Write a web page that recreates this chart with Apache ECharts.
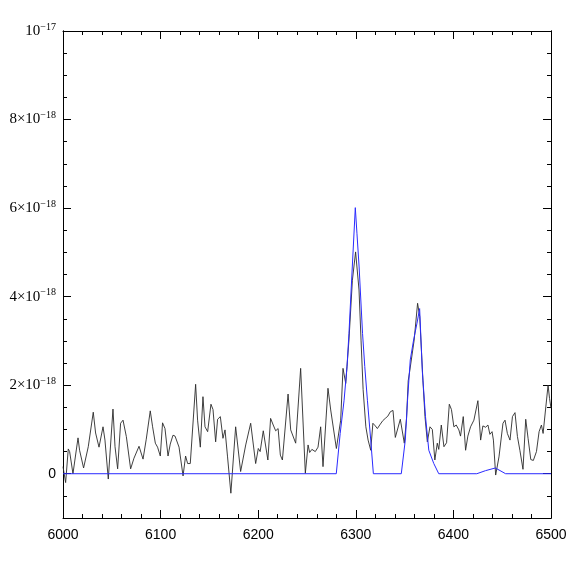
<!DOCTYPE html>
<html>
<head>
<meta charset="utf-8">
<script src="https://cdn.jsdelivr.net/npm/echarts@6/dist/echarts.min.js"></script>
<style>
  html, body { margin: 0; padding: 0; background: #fff; }
  #chart { width: 581px; height: 581px; }
</style>
</head>
<body>
<div id="chart"></div>
<script>
// wavelength (Angstrom) and flux in units of 1e-18
const observedX = [
  6000, 6002.7, 6005.4, 6006.8, 6010.2, 6015.4, 6017, 6021.1, 6025.9, 6031, 6033.4, 6036.9,
  6041, 6043, 6046.4, 6051.2, 6053.3, 6056, 6059, 6061.5, 6064.9, 6069.3, 6072.7, 6074.4,
  6077.9, 6082, 6085.3, 6089.4, 6091.8, 6094.6, 6096.9, 6099.7, 6102, 6104.5, 6107.6, 6109.9,
  6112.7, 6114.8, 6116.8, 6118.9, 6123, 6125.6, 6127.7, 6130.4, 6135.9, 6137.9, 6140.7, 6143.4,
  6145.5, 6148.2, 6151.6, 6153.7, 6156.4, 6158.4, 6161.2, 6163.9, 6166, 6168.6, 6172, 6176.9,
  6182, 6187.2, 6192.3, 6197.4, 6200.1, 6202, 6205.2, 6209.9, 6212.7, 6215.4, 6217.9, 6220.4,
  6222.7, 6224.8, 6230.6, 6233.3, 6235, 6238.4, 6243.5, 6248.3, 6251.1, 6252.7, 6255, 6258.5,
  6261.3, 6264, 6266.4, 6271.5, 6274.3, 6280.1, 6284.5, 6286.9, 6289.7, 6293, 6296.5, 6299.8,
  6303.3, 6305.4, 6307.5, 6310.3, 6312.6, 6315.3, 6317.5, 6320, 6322.1, 6325.1, 6327.7, 6330.2,
  6332.8, 6335.4, 6338.1, 6340.5, 6345.6, 6349.7, 6352, 6353.7, 6355.4, 6359.8, 6363.3, 6365.5,
  6368.8, 6370.9, 6373.3, 6376, 6378.4, 6381, 6383.5, 6385, 6387.6, 6390.3, 6393, 6395.8,
  6398, 6400.5, 6402.9, 6405.6, 6407.3, 6410.1, 6412.5, 6414.8, 6417.6, 6421, 6425.1, 6427.9,
  6430.2, 6433, 6435.4, 6437.4, 6439.6, 6441, 6443.3, 6446.7, 6450.8, 6452.9, 6455.3, 6458,
  6460.5, 6463.1, 6465.6, 6468.2, 6471.3, 6474.1, 6476.5, 6479.3, 6481.9, 6485.1, 6487.8, 6490.2,
  6491.9, 6494.7, 6497, 6498.5, 6500
];
const observedFlux = [
  0.16, -0.2, 0.56, 0.5, 0.0, 0.81, 0.53, 0.13, 0.61, 1.39, 0.92, 0.6,
  1.06, 0.76, -0.12, 1.46, 0.61, 0.11, 1.14, 1.21, 0.84, 0.11, 0.35, 0.33,
  0.62, 0.33, 0.78, 1.42, 1.06, 0.69, 0.6, 0.4, 1.15, 1.02, 0.4, 0.67,
  0.87, 0.85, 0.89, 0.6, -0.05, 0.4, 0.23, 0.23, 2.02, 1.21, 0.6, 1.74,
  1.06, 0.95, 1.57, 1.45, 0.72, 1.23, 1.29, 0.8, 0.99, 0.38, -0.44, 1.06,
  0.05, 0.65, 1.14, 0.23, 0.57, 0.5, 0.97, 0.31, 1.25, 1.1, 0.97, 1.02,
  0.42, 0.31, 1.8, 0.99, 0.95, 0.69, 2.38, 0.01, 0.65, 0.48, 0.55, 0.5,
  0.6, 1.06, 0.16, 1.93, 1.44, 0.57, 1.21, 2.38, 2.04, 3.02, 4.37, 5.01,
  4.15, 3.0, 1.9, 1.06, 0.76, 0.53, 1.14, 1.08, 1.02, 1.12, 1.2, 1.25,
  1.3, 1.4, 1.43, 0.82, 1.23, 0.69, 1.25, 2.1, 2.34, 3.02, 3.85, 3.55,
  2.1, 1.29, 0.72, 1.06, 1.0, 0.31, 0.69, 0.55, 1.1, 0.61, 0.7, 1.57,
  1.45, 1.06, 1.1, 0.99, 0.85, 1.29, 0.53, 0.85, 1.06, 1.21, 1.65, 0.76,
  1.08, 1.05, 1.1, 0.89, 0.95, 0.76, -0.03, 0.38, 1.14, 1.21, 0.91, 0.76,
  1.29, 1.38, 0.84, 0.52, 0.1, 1.23, 0.8, 0.32, 0.3, 0.5, 0.95, 1.1,
  0.91, 1.51, 2.0, 1.7, 1.48
];
const modelX = [
  6000, 6280, 6284, 6288, 6291, 6293, 6296.4, 6299.5, 6301.2, 6303.4, 6306.9, 6309.2, 6311.9,
  6315.3, 6318, 6346.6, 6350.7, 6353, 6355.8, 6359.2, 6362.7, 6365.4, 6368.2, 6371.4, 6374.8,
  6379.9, 6385, 6424, 6433, 6443, 6453.5, 6500
];
const modelFlux = [
  0, 0, 0.91, 1.66, 2.42, 3.17, 4.67, 6.01, 5.42, 4.67, 3.17, 2.42, 1.66,
  0.76, 0, 0, 0.76, 1.66, 2.57, 3.02, 3.4, 3.73, 2.3, 1.29, 0.53,
  0.23, 0, 0, 0.07, 0.13, 0, 0
];
const yTicks = [0, 2, 4, 6, 8, 10];

const chart = echarts.init(document.getElementById('chart'));

const frameLine = { show: true, onZero: false, lineStyle: { color: '#000', width: 1 } };

function yLabel(value) {
  if (value === 0) return '{n|0}';
  if (value === 10) return '{b|10}{s|\u221217}';
  return '{b|' + value + '\u00d710}{s|\u221218}';
}

function xAxisDef(position, showLabels) {
  return {
    type: 'value',
    position: position,
    min: 6000,
    max: 6500,
    interval: 100,
    axisLine: frameLine,
    axisTick: { inside: true, length: 8, lineStyle: { color: '#000' } },
    minorTick: { show: true, splitNumber: 5, length: 4, lineStyle: { color: '#000' } },
    splitLine: { show: false },
    axisLabel: {
      show: showLabels,
      margin: 10,
      color: '#000',
      fontFamily: 'Liberation Sans',
      fontSize: 14,
      formatter: (v) => String(v)
    }
  };
}

function yMinorDef(position) {
  return {
    type: 'value',
    position: position,
    min: -1,
    max: 10,
    interval: 0.5,
    axisLine: frameLine,
    axisTick: { inside: true, length: 4, lineStyle: { color: '#000' } },
    splitLine: { show: false },
    axisLabel: { show: false }
  };
}

function yMajorDef(position, showLabels) {
  return {
    type: 'value',
    position: position,
    min: -1,
    max: 10,
    axisLine: frameLine,
    axisTick: { inside: true, length: 8, customValues: yTicks, lineStyle: { color: '#000' } },
    splitLine: { show: false },
    axisLabel: {
      show: showLabels,
      customValues: yTicks,
      margin: 7,
      color: '#000',
      formatter: yLabel,
      rich: {
        n: { fontFamily: 'Liberation Sans', fontSize: 14, color: '#000' },
        b: { fontFamily: 'Liberation Serif', fontSize: 15, lineHeight: 18, color: '#000' },
        s: { fontFamily: 'Liberation Serif', fontSize: 10, lineHeight: 9, verticalAlign: 'top', color: '#000' }
      }
    }
  };
}

chart.setOption({
  backgroundColor: '#fff',
  animation: false,
  grid: { left: 63, right: 30, top: 31, bottom: 63 },
  xAxis: [xAxisDef('bottom', true), xAxisDef('top', false)],
  yAxis: [yMinorDef('left'), yMajorDef('left', true), yMinorDef('right'), yMajorDef('right', false)],
  series: [
    {
      name: 'observed',
      type: 'line',
      showSymbol: false,
      data: observedX.map((x, i) => [x, observedFlux[i]]),
      lineStyle: { color: '#2a2a2a', width: 0.9 }
    },
    {
      name: 'model',
      type: 'line',
      showSymbol: false,
      data: modelX.map((x, i) => [x, modelFlux[i]]),
      lineStyle: { color: '#2a2aff', width: 1 }
    }
  ]
});
</script>
</body>
</html>
